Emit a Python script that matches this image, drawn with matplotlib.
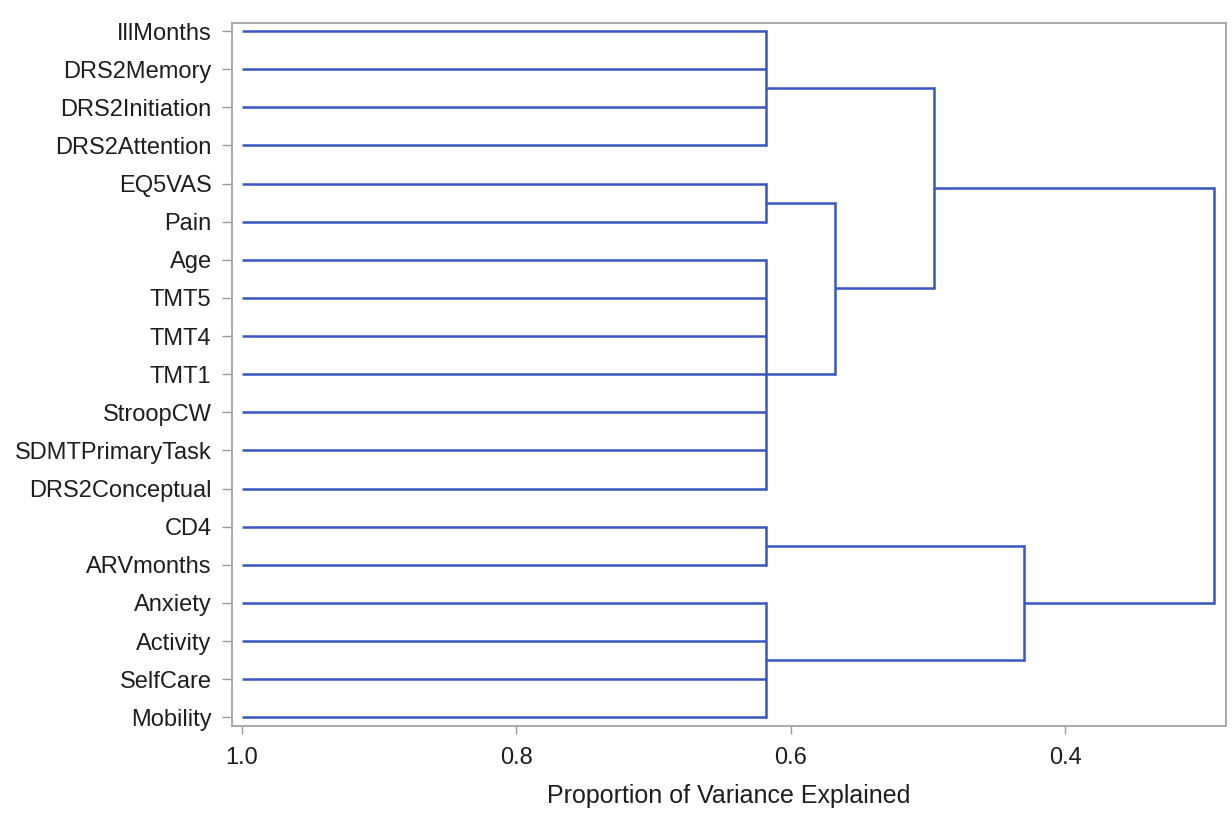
import matplotlib.pyplot as plt

plt.rcParams["font.family"] = ["Liberation Sans", "DejaVu Sans"]
plt.rcParams["font.size"] = 16

# leaf labels, top to bottom
labels = ["IllMonths", "DRS2Memory", "DRS2Initiation", "DRS2Attention",
          "EQ5VAS", "Pain", "Age", "TMT5", "TMT4", "TMT1", "StroopCW",
          "SDMTPrimaryTask", "DRS2Conceptual", "CD4", "ARVmonths",
          "Anxiety", "Activity", "SelfCare", "Mobility"]

# first level clusters (leaf indices) and where they join
group_members = [[0, 1, 2, 3], [4, 5], [6, 7, 8, 9, 10, 11, 12], [13, 14],
                 [15, 16, 17, 18]]
group_height = [0.618, 0.618, 0.618, 0.618, 0.618]

# higher merges: node ids 0-4 are the groups, new nodes get 5, 6, ...
merge_a = [1, 0, 3, 6]
merge_b = [2, 5, 4, 7]
merge_height = [0.5675, 0.4955, 0.430, 0.292]

leaf_value = 1.0
line_color = "#3657c0"
lw = 1.8

fig = plt.figure(figsize=(12.32, 8.27), dpi=100)
ax = fig.add_axes([0.1881, 0.1221, 0.8070, 0.8505])

node_y = []
node_h = []
for members, h in zip(group_members, group_height):
    for i in members:
        ax.plot([leaf_value, h], [i, i], color=line_color, lw=lw,
                solid_capstyle="butt")
    ax.plot([h, h], [members[0], members[-1]], color=line_color, lw=lw,
            solid_capstyle="projecting")
    node_y.append((members[0] + members[-1]) / 2)
    node_h.append(h)

for a, b, h in zip(merge_a, merge_b, merge_height):
    for c in (a, b):
        ax.plot([node_h[c], h], [node_y[c], node_y[c]], color=line_color,
                lw=lw, solid_capstyle="butt")
    ax.plot([h, h], [node_y[a], node_y[b]], color=line_color, lw=lw,
            solid_capstyle="projecting")
    node_y.append((node_y[a] + node_y[b]) / 2)
    node_h.append(h)

ax.set_xlim(1.0073, 0.283)
ax.set_ylim(len(labels) - 1 + 0.23, -0.22)
ax.set_xticks([1.0, 0.8, 0.6, 0.4])
ax.set_xticklabels(["1.0", "0.8", "0.6", "0.4"])
ax.set_yticks(range(len(labels)))
ax.set_yticklabels(labels)

for s in ax.spines.values():
    s.set_color("#a9a9a9")
    s.set_linewidth(1.4)
ax.tick_params(axis="y", length=7.5, width=1.0, color="#9a9a9a", pad=7,
               labelsize=17, labelcolor="#1e1e1e")
ax.tick_params(axis="x", length=6, width=1.0, color="#9a9a9a", pad=9,
               labelsize=17, labelcolor="#1e1e1e")
ax.set_xlabel("Proportion of Variance Explained", fontsize=18,
              color="#1e1e1e", labelpad=11)

plt.savefig("out.png", dpi=100)
